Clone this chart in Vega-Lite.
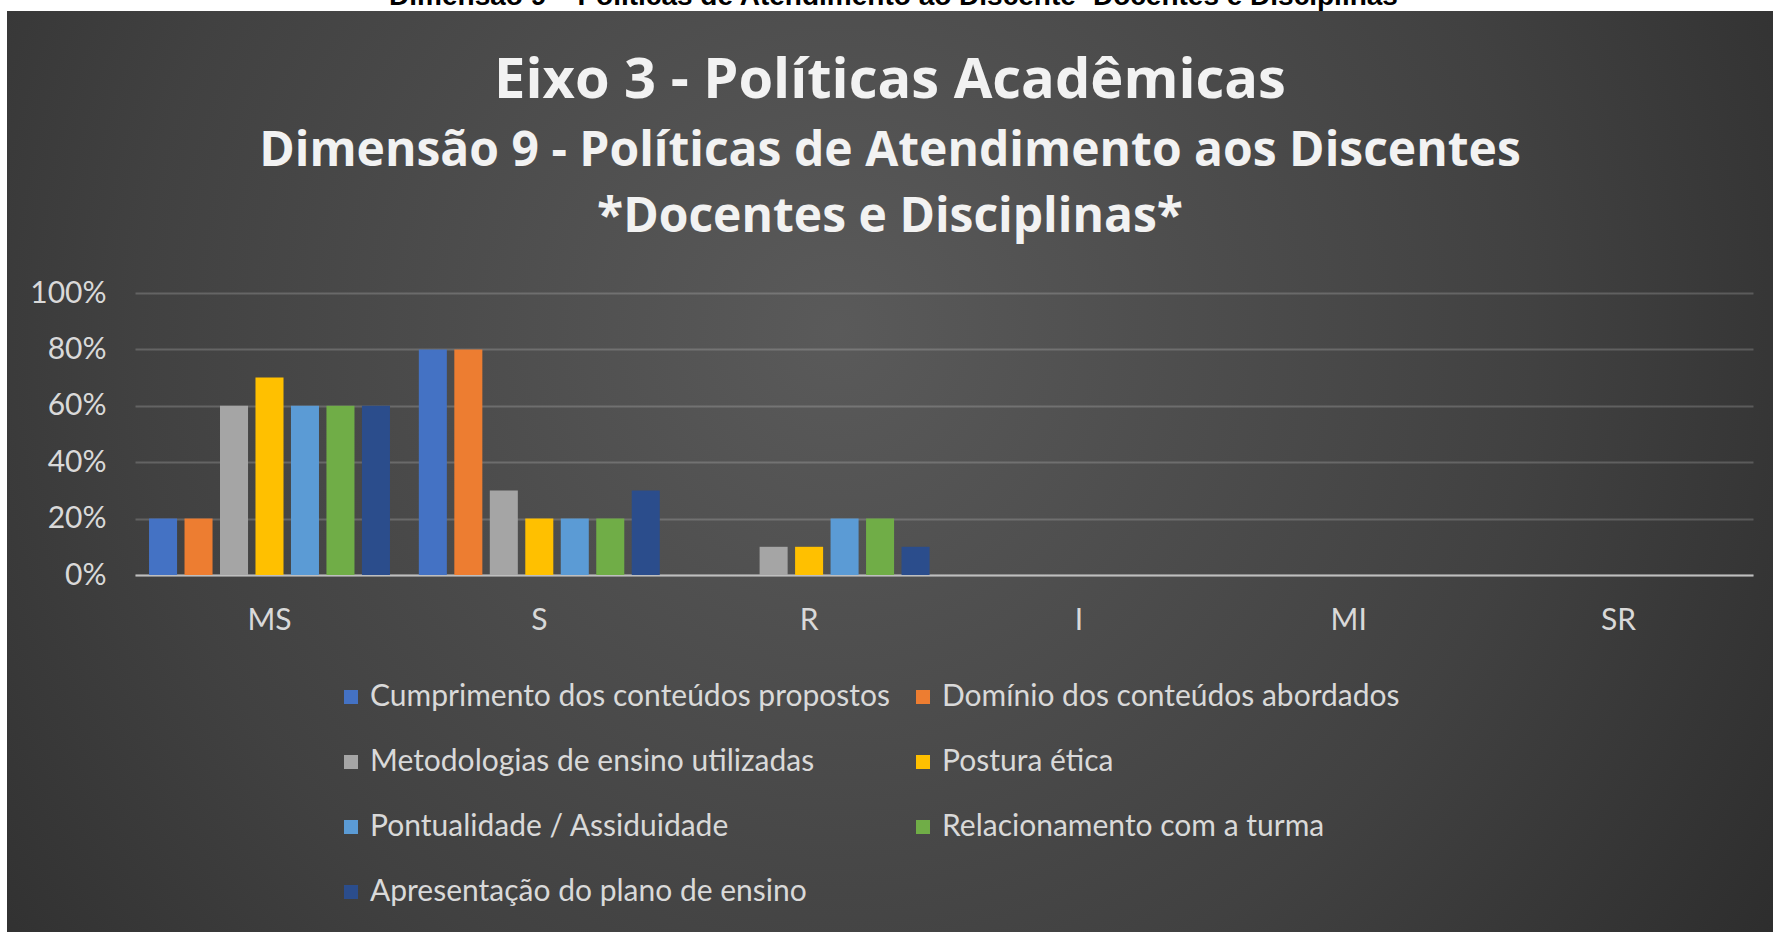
{
  "$schema": "https://vega.github.io/schema/vega-lite/v6.json",
  "width": 1766,
  "height": 921,
  "autosize": {"type": "none"},
  "padding": {"left": 7, "top": 11, "right": 0, "bottom": 0},
  "background": "#ffffff",
  "config": {
    "view": {
      "stroke": null,
      "fill": {"gradient": "radial", "x1": 0.47, "y1": 0.42, "r1": 0, "x2": 0.47, "y2": 0.42, "r2": 0.72,
        "stops": [{"offset": 0, "color": "#5a5a5a"}, {"offset": 0.55, "color": "#414141"}, {"offset": 1, "color": "#262626"}]}
    }
  },
  "title": {
    "text": "Eixo 3 - Políticas Acadêmicas",
    "subtitle": ["Dimensão 9 - Políticas de Atendimento aos Discentes", "*Docentes e Disciplinas*"],
    "anchor": "middle",
    "frame": "group",
    "orient": "top",
    "font": "Open Sans",
    "fontSize": 56,
    "fontWeight": "bold",
    "color": "#f2f2f2",
    "subtitleFont": "Open Sans",
    "subtitleFontSize": 48,
    "subtitleFontWeight": "bold",
    "subtitleColor": "#f2f2f2",
    "subtitlePadding": 18,
    "subtitleLineHeight": 66,
    "offset": -261
  },
  "data": {
    "values": [
      {"categoria": "MS", "criterio": "Cumprimento dos conteúdos propostos", "valor": 0.2},
      {"categoria": "MS", "criterio": "Domínio dos conteúdos abordados", "valor": 0.2},
      {"categoria": "MS", "criterio": "Metodologias de ensino utilizadas", "valor": 0.6},
      {"categoria": "MS", "criterio": "Postura ética", "valor": 0.7},
      {"categoria": "MS", "criterio": "Pontualidade / Assiduidade", "valor": 0.6},
      {"categoria": "MS", "criterio": "Relacionamento com a turma", "valor": 0.6},
      {"categoria": "MS", "criterio": "Apresentação do plano de ensino", "valor": 0.6},
      {"categoria": "S", "criterio": "Cumprimento dos conteúdos propostos", "valor": 0.8},
      {"categoria": "S", "criterio": "Domínio dos conteúdos abordados", "valor": 0.8},
      {"categoria": "S", "criterio": "Metodologias de ensino utilizadas", "valor": 0.3},
      {"categoria": "S", "criterio": "Postura ética", "valor": 0.2},
      {"categoria": "S", "criterio": "Pontualidade / Assiduidade", "valor": 0.2},
      {"categoria": "S", "criterio": "Relacionamento com a turma", "valor": 0.2},
      {"categoria": "S", "criterio": "Apresentação do plano de ensino", "valor": 0.3},
      {"categoria": "R", "criterio": "Cumprimento dos conteúdos propostos", "valor": 0},
      {"categoria": "R", "criterio": "Domínio dos conteúdos abordados", "valor": 0},
      {"categoria": "R", "criterio": "Metodologias de ensino utilizadas", "valor": 0.1},
      {"categoria": "R", "criterio": "Postura ética", "valor": 0.1},
      {"categoria": "R", "criterio": "Pontualidade / Assiduidade", "valor": 0.2},
      {"categoria": "R", "criterio": "Relacionamento com a turma", "valor": 0.2},
      {"categoria": "R", "criterio": "Apresentação do plano de ensino", "valor": 0.1},
      {"categoria": "I", "criterio": "Cumprimento dos conteúdos propostos", "valor": 0},
      {"categoria": "I", "criterio": "Domínio dos conteúdos abordados", "valor": 0},
      {"categoria": "I", "criterio": "Metodologias de ensino utilizadas", "valor": 0},
      {"categoria": "I", "criterio": "Postura ética", "valor": 0},
      {"categoria": "I", "criterio": "Pontualidade / Assiduidade", "valor": 0},
      {"categoria": "I", "criterio": "Relacionamento com a turma", "valor": 0},
      {"categoria": "I", "criterio": "Apresentação do plano de ensino", "valor": 0},
      {"categoria": "MI", "criterio": "Cumprimento dos conteúdos propostos", "valor": 0},
      {"categoria": "MI", "criterio": "Domínio dos conteúdos abordados", "valor": 0},
      {"categoria": "MI", "criterio": "Metodologias de ensino utilizadas", "valor": 0},
      {"categoria": "MI", "criterio": "Postura ética", "valor": 0},
      {"categoria": "MI", "criterio": "Pontualidade / Assiduidade", "valor": 0},
      {"categoria": "MI", "criterio": "Relacionamento com a turma", "valor": 0},
      {"categoria": "MI", "criterio": "Apresentação do plano de ensino", "valor": 0},
      {"categoria": "SR", "criterio": "Cumprimento dos conteúdos propostos", "valor": 0},
      {"categoria": "SR", "criterio": "Domínio dos conteúdos abordados", "valor": 0},
      {"categoria": "SR", "criterio": "Metodologias de ensino utilizadas", "valor": 0},
      {"categoria": "SR", "criterio": "Postura ética", "valor": 0},
      {"categoria": "SR", "criterio": "Pontualidade / Assiduidade", "valor": 0},
      {"categoria": "SR", "criterio": "Relacionamento com a turma", "valor": 0},
      {"categoria": "SR", "criterio": "Apresentação do plano de ensino", "valor": 0}
    ]
  },
  "mark": {"type": "bar"},
  "encoding": {
    "x": {
      "field": "categoria",
      "type": "nominal",
      "sort": ["MS", "S", "R", "I", "MI", "SR"],
      "scale": {"range": [128, 1746], "paddingInner": 0.107, "paddingOuter": 0.052},
      "axis": {
        "title": null,
        "orient": "bottom",
        "offset": -357,
        "labelAngle": 0,
        "labelPadding": 30,
        "ticks": false,
        "grid": false,
        "domainColor": "#bfbfbf",
        "domainWidth": 2,
        "labelColor": "#d9d9d9",
        "labelFont": "Lato",
        "labelFontSize": 30
      }
    },
    "xOffset": {
      "field": "criterio",
      "type": "nominal",
      "sort": ["Cumprimento dos conteúdos propostos", "Domínio dos conteúdos abordados", "Metodologias de ensino utilizadas", "Postura ética", "Pontualidade / Assiduidade", "Relacionamento com a turma", "Apresentação do plano de ensino"],
      "scale": {"paddingInner": 0.21, "paddingOuter": 0}
    },
    "y": {
      "field": "valor",
      "type": "quantitative",
      "scale": {"domain": [0, 1], "range": [564, 282], "nice": false},
      "axis": {
        "title": "Dimensão 9 – Políticas de Atendimento ao Discente- Docentes e Disciplinas",
        "titleAngle": 0,
        "titleX": 758,
        "titleY": -7,
        "titleAlign": "center",
        "titleBaseline": "alphabetic",
        "titleColor": "#000000",
        "titleFont": "Liberation Sans",
        "titleFontSize": 28,
        "titleFontWeight": "bold",
        "orient": "left",
        "offset": -128,
        "values": [0, 0.2, 0.4, 0.6, 0.8, 1],
        "format": ".0%",
        "labelPadding": 29,
        "ticks": false,
        "domain": false,
        "grid": true,
        "gridColor": "#ffffff",
        "gridOpacity": 0.18,
        "gridWidth": 2,
        "labelColor": "#d9d9d9",
        "labelFont": "Lato",
        "labelFontSize": 30
      }
    },
    "color": {
      "field": "criterio",
      "type": "nominal",
      "scale": {
        "domain": ["Cumprimento dos conteúdos propostos", "Domínio dos conteúdos abordados", "Metodologias de ensino utilizadas", "Postura ética", "Pontualidade / Assiduidade", "Relacionamento com a turma", "Apresentação do plano de ensino"],
        "range": ["#4472c4", "#ed7d31", "#a5a5a5", "#ffc000", "#5b9bd5", "#70ad47", "#2b4d8c"]
      },
      "legend": {
        "title": null,
        "orient": "none",
        "direction": "horizontal",
        "legendX": 329,
        "legendY": 671,
        "columns": 2,
        "padding": 0,
        "symbolType": "square",
        "symbolSize": 196,
        "symbolStrokeWidth": 0,
        "labelOffset": 4,
        "columnPadding": 18,
        "rowPadding": 35,
        "labelLimit": 900,
        "labelColor": "#d9d9d9",
        "labelFont": "Lato",
        "labelFontSize": 30
      }
    }
  }
}
